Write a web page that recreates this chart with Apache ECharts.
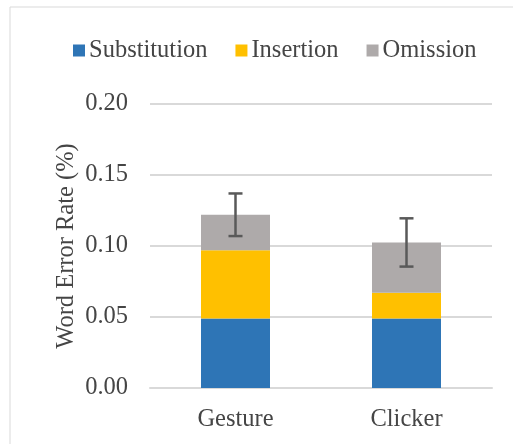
<!DOCTYPE html>
<html>
<head>
<meta charset="utf-8">
<script src="https://cdn.jsdelivr.net/npm/echarts@6/dist/echarts.min.js"></script>
<style>
  html, body { margin: 0; padding: 0; background: #fff; }
  #chart { width: 513px; height: 444px; }
</style>
</head>
<body>
<div id="chart"></div>
<script>
// Word error rate by input method, split into error types
const categories = ['Gesture', 'Clicker'];
const substitution = [0.049, 0.049];
const insertion = [0.048, 0.018];
const omission = [0.025, 0.0355];
const errorSD = [0.015, 0.017];
const yTicks = { min: 0, max: 0.2, interval: 0.05 };

const totals = categories.map((c, i) => substitution[i] + insertion[i] + omission[i]);

const FONT = '"Liberation Serif", "Times New Roman", serif';
const SIZE = 24.5;
const TEXT = '#454545';

const chart = echarts.init(document.getElementById('chart'), null, { renderer: 'canvas' });

chart.setOption({
  backgroundColor: '#ffffff',
  animation: false,
  graphic: [{
    type: 'rect',
    shape: { x: 10, y: 7, width: 700, height: 700 },
    style: { fill: 'none', stroke: '#D9D9D9', lineWidth: 1 },
    silent: true,
    z: -10
  }],
  legend: {
    left: 68,
    top: 33,
    itemWidth: 12,
    itemHeight: 12,
    itemGap: 28,
    icon: 'rect',
    textStyle: { fontFamily: FONT, fontSize: SIZE, color: TEXT, padding: [0, 0, 0, -1] },
    data: ['Substitution', 'Insertion', 'Omission']
  },
  grid: { left: 150, right: 21, top: 104, bottom: 56 },
  xAxis: {
    type: 'category',
    data: categories,
    axisLine: { lineStyle: { color: '#D9D9D9', width: 2 } },
    axisTick: { show: false },
    axisLabel: { fontFamily: FONT, fontSize: SIZE, color: TEXT, margin: 19 }
  },
  yAxis: {
    type: 'value',
    min: yTicks.min,
    max: yTicks.max,
    interval: yTicks.interval,
    name: 'Word Error Rate (%)',
    nameLocation: 'middle',
    nameGap: 71,
    nameMoveOverlap: false,
    nameTextStyle: { fontFamily: FONT, fontSize: SIZE, color: TEXT },
    axisLine: { show: false },
    axisTick: { show: false },
    splitLine: { lineStyle: { color: '#D9D9D9', width: 2 } },
    axisLabel: {
      fontFamily: FONT, fontSize: SIZE, color: TEXT, margin: 22,
      formatter: v => v.toFixed(2)
    }
  },
  series: [
    {
      name: 'Substitution', type: 'bar', stack: 'wer', barWidth: 69,
      itemStyle: { color: '#2E75B6' }, data: substitution
    },
    {
      name: 'Insertion', type: 'bar', stack: 'wer', barWidth: 69,
      itemStyle: { color: '#FFC000' }, data: insertion
    },
    {
      name: 'Omission', type: 'bar', stack: 'wer', barWidth: 69,
      itemStyle: { color: '#AEAAAA' }, data: omission
    },
    {
      name: 'error', type: 'custom',
      data: categories.map((c, i) => [i, totals[i] - errorSD[i], totals[i] + errorSD[i]]),
      encode: { x: 0, y: [1, 2] },
      z: 10,
      renderItem: function (params, api) {
        const x = api.value(0);
        const lo = api.coord([x, api.value(1)]);
        const hi = api.coord([x, api.value(2)]);
        const cap = 7;
        const style = { stroke: '#595959', lineWidth: 2.5, fill: 'none' };
        return {
          type: 'group',
          children: [
            { type: 'line', shape: { x1: lo[0], y1: lo[1], x2: hi[0], y2: hi[1] }, style },
            { type: 'line', shape: { x1: hi[0] - cap, y1: hi[1], x2: hi[0] + cap, y2: hi[1] }, style },
            { type: 'line', shape: { x1: lo[0] - cap, y1: lo[1], x2: lo[0] + cap, y2: lo[1] }, style }
          ]
        };
      }
    }
  ]
});
</script>
</body>
</html>
